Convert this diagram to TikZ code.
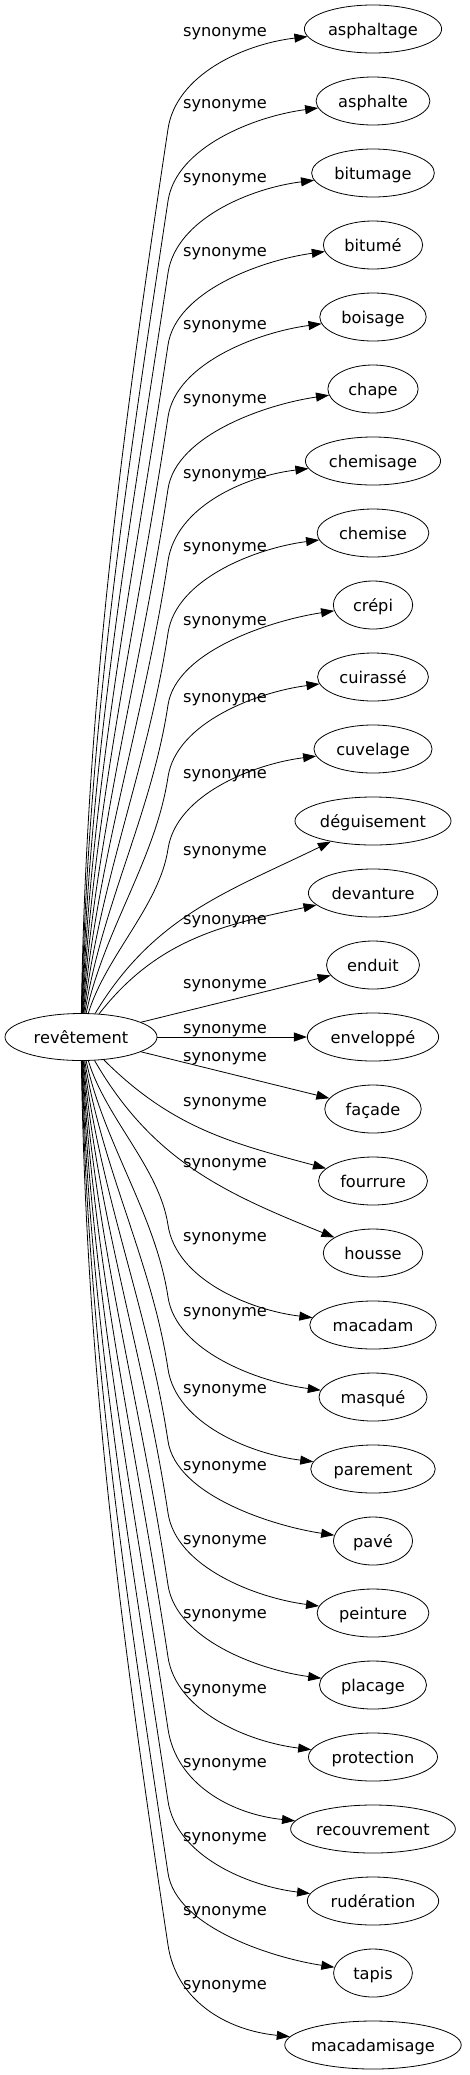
\documentclass[tikz,border=0pt]{standalone}
\usepackage{fontspec}
\setmainfont{DejaVu Sans}
\usetikzlibrary{arrows.meta,shapes.geometric,calc}

\begin{document}
\fontsize{16.2}{19}\selectfont
\begin{tikzpicture}[
    x=1pt,y=1pt,
    word/.style={
      draw,ellipse,line width=0.8pt,
      inner xsep=0pt,inner ysep=0pt,
      text height=14pt,text depth=2pt,
      minimum height=48pt},
    arr/.style={-{Triangle[length=13pt,width=9pt]},line width=0.8pt},
    lbl/.style={anchor=base}
]
\useasboundingbox (0,0) rectangle (469,-2075);

\node[word,minimum width=152pt,minimum height=47pt] (rev) at (81,-1037) {revêtement};

% targets and their labels
\foreach \name/\ly [count=\k from 0] in {asphaltage/30,asphalte/102,bitumage/176,bitumé/250,
    boisage/323,chape/397,chemisage/472,chemise/545,crépi/619,cuirassé/696,cuvelage/772,
    déguisement/849,devanture/918,enduit/982,enveloppé/1027,façade/1055,fourrure/1100,
    housse/1161,macadam/1235,masqué/1310,parement/1387,pavé/1464,peinture/1538,
    placage/1612,protection/1687,recouvrement/1761,rudération/1835,tapis/1909,
    macadamisage/1983}{
  \pgfmathsetmacro\ny{-(29+72*\k)}
  \pgfmathsetmacro\nw{1.16*width("\name")+33}
  \node[word,minimum width=\nw pt] (t\k) at (373,\ny) {\name};
  \node[lbl] (l\k) at (225,{-(\ly+6)}) {synonyme};
}

% long edges: steep rise, then bend into the target
\foreach \k in {0,1,2,3,4,5,6,7,8,9,10,18,19,20,21,22,23,24,25,26,27,28}{
  \pgfmathsetmacro\s{\k<14 ? 1 : -1}
  \pgfmathsetmacro\m{abs(14-\k)}
  \pgfmathsetmacro\ny{-(29+72*\k)}
  \pgfmathsetmacro\jy{\ny-100*\s}
  \pgfmathsetmacro\la{abs(\jy+1037)-24}
  \pgfmathsetmacro\xs{114-2*\m}
  \draw[arr] (rev) .. controls (\xs,{-1037+\s*(24+0.35*\la)})
      and ({168-0.052*\la},{\jy-\s*0.346*\la}) .. (168,\jy)
      .. controls (176.1,{\jy+\s*54.4}) and ($(t\k.west)+(-60,{-15*\s})$) .. (t\k);
}

% short edges
\draw[arr] (rev) to[out=59,in=206] (t11);
\draw[arr] (rev) to[out=52,in=192] (t12);
\draw[arr] (rev) -- (t13);
\draw[arr] (rev) -- (t14);
\draw[arr] (rev) -- (t15);
\draw[arr] (rev) to[out=-45,in=165] (t16);
\draw[arr] (rev) to[out=-60,in=158] (t17);
\end{tikzpicture}
\end{document}
